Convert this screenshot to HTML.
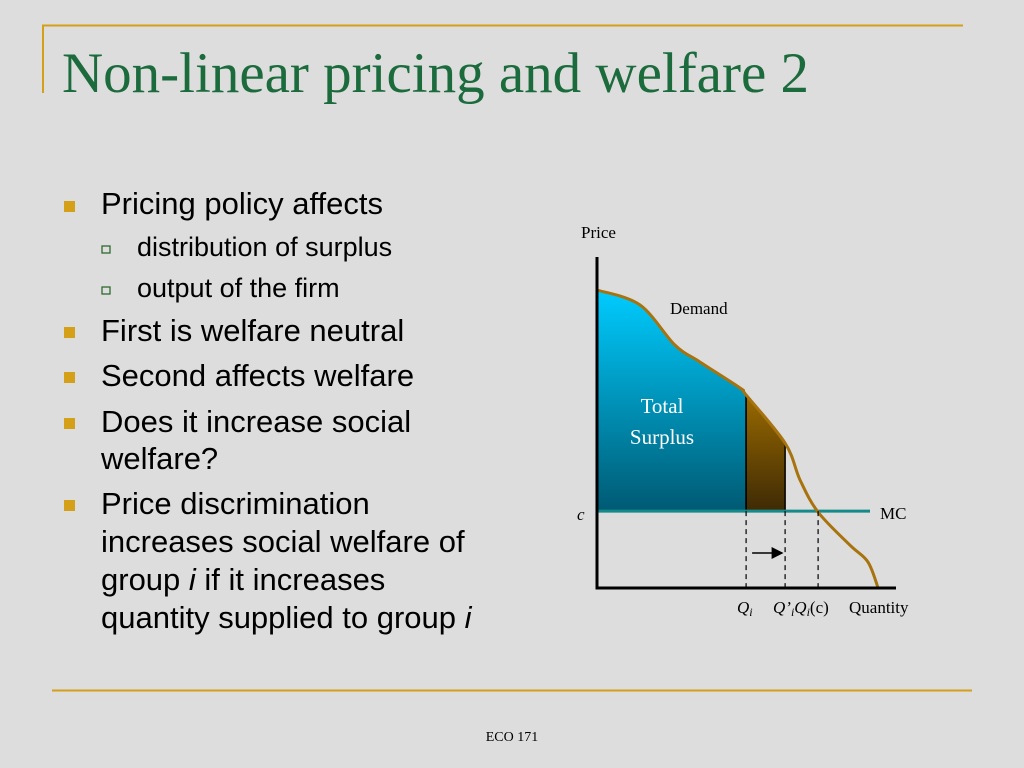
<!DOCTYPE html>
<html><head><meta charset="utf-8"><style>
html,body{margin:0;padding:0;background:#dddddd;}
svg{display:block;}
.b{font-family:"Liberation Sans",sans-serif;font-size:31px;fill:#000;}
.s{font-family:"Liberation Sans",sans-serif;font-size:27px;fill:#000;}
.t{font-family:"Liberation Serif",serif;fill:#000;}
</style></head><body>
<svg width="1024" height="768" viewBox="0 0 1024 768">
<defs>
<linearGradient id="blue" x1="0" y1="0" x2="0" y2="1"><stop offset="0" stop-color="#00ccff"/><stop offset="1" stop-color="#005a73"/></linearGradient>
<linearGradient id="brown" x1="0" y1="0" x2="0" y2="1"><stop offset="0" stop-color="#9a6a00"/><stop offset="1" stop-color="#3e2a05"/></linearGradient>
<marker id="ah" markerWidth="8" markerHeight="8" refX="7" refY="4" orient="auto"><path d="M0,0 L8,4 L0,8 z" fill="#000"/></marker>
</defs>
<rect width="1024" height="768" fill="#dddddd"/>
<line x1="42" y1="25.5" x2="963" y2="25.5" stroke="#d4a017" stroke-width="2"/>
<line x1="43" y1="25" x2="43" y2="93" stroke="#d4a017" stroke-width="2"/>
<text x="62" y="92" font-family="Liberation Serif,serif" font-size="57" fill="#1b6b3c">Non-linear pricing and welfare 2</text>

<g>
<rect x="64" y="201" width="11" height="11" fill="#d4a017"/>
<text class="b" x="101" y="214">Pricing policy affects</text>
<rect x="102" y="246" width="8" height="7" fill="none" stroke="#2e6b2e" stroke-width="1.3"/>
<text class="s" x="137" y="256">distribution of surplus</text>
<rect x="102" y="287" width="8" height="7" fill="none" stroke="#2e6b2e" stroke-width="1.3"/>
<text class="s" x="137" y="297">output of the firm</text>
<rect x="64" y="327" width="11" height="11" fill="#d4a017"/>
<text class="b" x="101" y="341">First is welfare neutral</text>
<rect x="64" y="372" width="11" height="11" fill="#d4a017"/>
<text class="b" x="101" y="386">Second affects welfare</text>
<rect x="64" y="418" width="11" height="11" fill="#d4a017"/>
<text class="b" x="101" y="432">Does it increase social</text>
<text class="b" x="101" y="469">welfare?</text>
<rect x="64" y="500" width="11" height="11" fill="#d4a017"/>
<text class="b" x="101" y="514">Price discrimination</text>
<text class="b" x="101" y="552">increases social welfare of</text>
<text class="b" x="101" y="590">group <tspan font-style="italic">i</tspan> if it increases</text>
<text class="b" x="101" y="628">quantity supplied to group <tspan font-style="italic">i</tspan></text>
</g>

<g id="chart"></g>

<line x1="52" y1="690.5" x2="972" y2="690.5" stroke="#d4a017" stroke-width="2"/>
<text class="t" x="512" y="741" font-size="14" text-anchor="middle">ECO 171</text>
</svg>
<script>
const demandQ = [0, 14.3, 26, 34.3, 47.7, 49.7, 62.7, 67.7, 73.7, 84.3, 90.3, 93.7];
const demandP = [90.3, 85.8, 73.6, 68.5, 60.6, 58.5, 43.9, 32.7, 23, 13, 7.9, 0];
const mcPrice = 23.3;
const qI = 49.7;
const qIPrime = 62.7;
const qIc = 73.7;
const mcEndQ = 91;

const NS = 'http://www.w3.org/2000/svg';
const X0 = 597, Y0 = 588;
const xs = q => X0 + q * 3;
const ys = p => Y0 - p * 3.3;
const g = document.getElementById('chart');
function mk(tag, attrs) { const e = document.createElementNS(NS, tag); for (const k in attrs) e.setAttribute(k, attrs[k]); g.appendChild(e); return e; }
const P = demandQ.map((q, i) => [xs(q), ys(demandP[i])]);
// sample Catmull-Rom curve densely (pixel coords)
const samples = [];
let d = 'M' + P[0][0] + ',' + P[0][1];
for (let i = 0; i < P.length - 1; i++) {
  const p0 = P[Math.max(0, i - 1)], p1 = P[i], p2 = P[i + 1], p3 = P[Math.min(P.length - 1, i + 2)];
  const c1 = [p1[0] + (p2[0] - p0[0]) / 6, p1[1] + (p2[1] - p0[1]) / 6];
  const c2 = [p2[0] - (p3[0] - p1[0]) / 6, p2[1] - (p3[1] - p1[1]) / 6];
  d += ' C' + c1[0] + ',' + c1[1] + ' ' + c2[0] + ',' + c2[1] + ' ' + p2[0] + ',' + p2[1];
  for (let k = 0; k < 40; k++) {
    const t = k / 40, u = 1 - t;
    samples.push([u*u*u*p1[0] + 3*u*u*t*c1[0] + 3*u*t*t*c2[0] + t*t*t*p2[0],
                  u*u*u*p1[1] + 3*u*u*t*c1[1] + 3*u*t*t*c2[1] + t*t*t*p2[1]]);
  }
}
samples.push(P[P.length - 1]);
function yAtX(x) {
  for (let i = 0; i < samples.length - 1; i++) {
    const a = samples[i], b = samples[i + 1];
    if (x >= a[0] && x <= b[0] && b[0] > a[0]) return a[1] + (x - a[0]) / (b[0] - a[0]) * (b[1] - a[1]);
  }
  return samples[0][1];
}
function area(q1, q2) {
  const x1 = xs(q1), x2 = xs(q2), ym = ys(mcPrice);
  const pts = [[x1, ym], [x1, yAtX(x1)]];
  samples.forEach(s => { if (s[0] > x1 && s[0] < x2) pts.push(s); });
  pts.push([x2, yAtX(x2)], [x2, ym]);
  return pts.map(p => p[0] + ',' + p[1]).join(' ');
}
const a1 = mk('polygon', { points: area(0, qI), fill: 'url(#blue)', stroke: '#000', 'stroke-width': 1.5 });


const a2 = mk('polygon', { points: area(qI, qIPrime), fill: 'url(#brown)', stroke: '#000', 'stroke-width': 1.5 });


const mc = mk('line', { x1: xs(0), y1: ys(mcPrice), x2: xs(mcEndQ), y2: ys(mcPrice), stroke: '#168a8a', 'stroke-width': 3 });


const dem = mk('path', { d: d, fill: 'none', stroke: '#a8730f', 'stroke-width': 3 });


[qI, qIPrime, qIc].forEach(q => {
  const l = mk('line', { x1: xs(q), y1: ys(mcPrice), x2: xs(q), y2: Y0, stroke: '#000', 'stroke-width': 1.2, 'stroke-dasharray': '5,4' });
  
  
});
const arr = mk('line', { x1: xs(qI) + 6, y1: 553, x2: xs(qIPrime) - 3, y2: 553, stroke: '#000', 'stroke-width': 1.5, 'marker-end': 'url(#ah)' });


const ya = mk('line', { x1: X0, y1: 257, x2: X0, y2: Y0 + 1.5, stroke: '#000', 'stroke-width': 3 });


const xa = mk('line', { x1: X0 - 1.5, y1: Y0, x2: 896, y2: Y0, stroke: '#000', 'stroke-width': 3 });


function txt(x, y, s, name, extra) {
  const t = mk('text', Object.assign({ x: x, y: y, 'font-family': 'Liberation Serif,serif', 'font-size': 17, fill: '#000' }, extra || {}));
  t.innerHTML = s;
  
  
  return t;
}
txt(581, 238, 'Price', 'y-axis-title');
txt(849, 613, 'Quantity', 'x-axis-title');
txt(670, 314, 'Demand', 'demand-label');
txt(880, 519, 'MC', 'mc-label');
txt(577, 520, 'c', 'c-price-label', { 'font-style': 'italic' });
txt(662, 413, 'Total', 'surplus-label-line1', { fill: '#fff', 'font-size': 21, 'text-anchor': 'middle' });
txt(662, 444, 'Surplus', 'surplus-label-line2', { fill: '#fff', 'font-size': 21, 'text-anchor': 'middle' });
txt(737, 613, '<tspan font-style="italic">Q</tspan><tspan font-style="italic" font-size="12" dy="3">i</tspan>', 'qi-label');
txt(773, 613, '<tspan font-style="italic">Q’</tspan><tspan font-style="italic" font-size="12" dy="3">i</tspan><tspan font-style="italic" dy="-3">Q</tspan><tspan font-style="italic" font-size="12" dy="3">i</tspan><tspan dy="-3">(c)</tspan>', 'qi-prime-and-qic-labels');
</script>
</body></html>
